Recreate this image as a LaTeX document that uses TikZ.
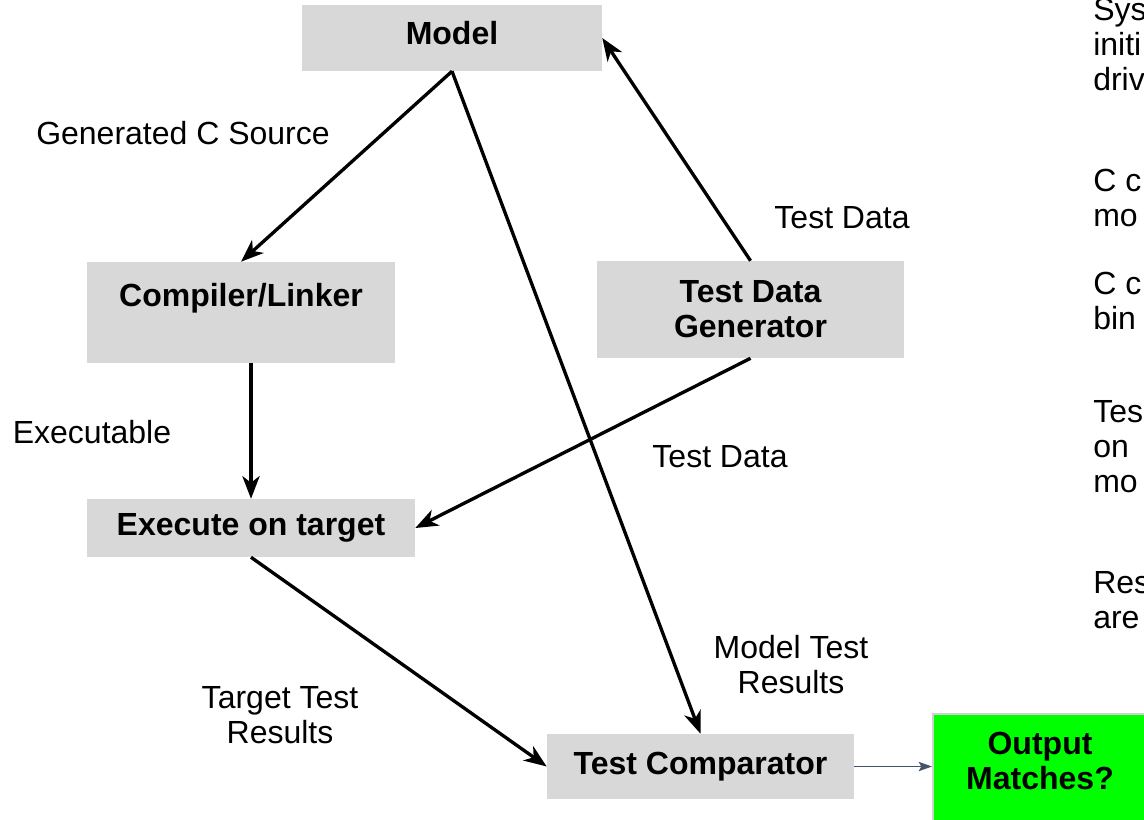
\documentclass[tikz,border=0pt]{standalone}
\usepackage{fontspec}
\setmainfont{Liberation Sans}
\usepackage{tikz}
\usetikzlibrary{arrows.meta,positioning}

\definecolor{boxgray}{RGB}{216,216,216}
\definecolor{okgreen}{RGB}{0,255,0}
\definecolor{slate}{RGB}{68,84,106}

\tikzset{
  stagebox/.style={fill=boxgray, inner sep=0pt, align=center, font=\fontsize{24}{26.25}\selectfont\bfseries},
  edgetext/.style={inner sep=0pt, align=center, font=\fontsize{24}{26.25}\selectfont},
  flow/.style={line width=2.5pt, -{Stealth[length=17pt,width=13pt,inset=5pt]}},
  thinflow/.style={draw=slate, line width=1.1pt, -{Stealth[length=10pt,width=7pt,inset=2pt]}}
}

\begin{document}
\begin{tikzpicture}[x=0.75pt,y=0.75pt,yscale=-1,xscale=1]
\useasboundingbox (0,0) rectangle (1144,819);
\clip (0,0) rectangle (1144,819);

%Shape: Rectangle [model]
\node [stagebox, text width=225pt, text height=29.6pt, text depth=19.9pt] (model) at (452,38) {Model};
%Shape: Rectangle [compiler]
\node [stagebox, text width=231pt, text height=33.4pt, text depth=42.4pt] (compiler) at (241,312.5) {Compiler/Linker};
%Shape: Rectangle [generator]
\node [stagebox, minimum width=230.25pt, minimum height=72.75pt] (generator) at (750.5,309.5) {Test Data\\Generator};
%Shape: Rectangle [execute]
\node [stagebox, minimum width=246pt, minimum height=43.5pt] (execute) at (251,528) {Execute on target};
%Shape: Rectangle [comparator]
\node [stagebox, minimum width=230.25pt, minimum height=48.75pt] (comparator) at (700.5,766.5) {Test Comparator};
%Shape: Rectangle [output]
\node [stagebox, fill=okgreen, draw={rgb,255:red,208;green,208;blue,208}, line width=1.5pt, text width=160.5pt, text height=30.4pt, text depth=56.6pt] (output) at (1040,772) {Output\\Matches?};

%Straight Lines [source]
\draw [flow] (model.south) -- (compiler.north);
%Straight Lines [model results]
\draw [flow] (model.south) -- (comparator.north);
%Straight Lines [data up]
\draw [flow] (generator.north) -- (model.east);
%Straight Lines [executable]
\draw [flow] (compiler.south -| execute.north) -- (execute.north);
%Straight Lines [data down]
\draw [flow] (generator.south) -- (execute.east);
%Straight Lines [target results]
\draw [flow] (execute.south) -- (comparator.west);
%Straight Lines [verdict]
\draw [thinflow] (comparator.east) -- (comparator.east -| output.west);

% Text Node
\node [edgetext] (gensrc) at (183,133) {Generated C Source};
% Text Node
\node [edgetext] (dataup) at (842,218) {Test Data};
% Text Node
\node [edgetext] (exelabel) at (92,432) {Executable};
% Text Node
\node [edgetext] (datadown) at (720,457) {Test Data};
% Text Node
\node [edgetext] (modelres) at (791,665) {Model Test\\Results};
% Text Node
\node [edgetext] (targetres) at (280,715.5) {Target Test\\Results};

% Text Node (notes, cut at the right edge)
\node [edgetext, align=left, anchor=west] (note1) at (1093,44) {Sys\\initi\\driv};
\node [edgetext, align=left, anchor=west] (note2) at (1093,197.5) {C c\\mo};
\node [edgetext, align=left, anchor=west] (note3) at (1093,300.5) {C c\\bin};
\node [edgetext, align=left, anchor=west] (note4) at (1093,447) {Tes\\on\\mo};
\node [edgetext, align=left, anchor=west] (note5) at (1093,600.5) {Res\\are};

\end{tikzpicture}
\end{document}
